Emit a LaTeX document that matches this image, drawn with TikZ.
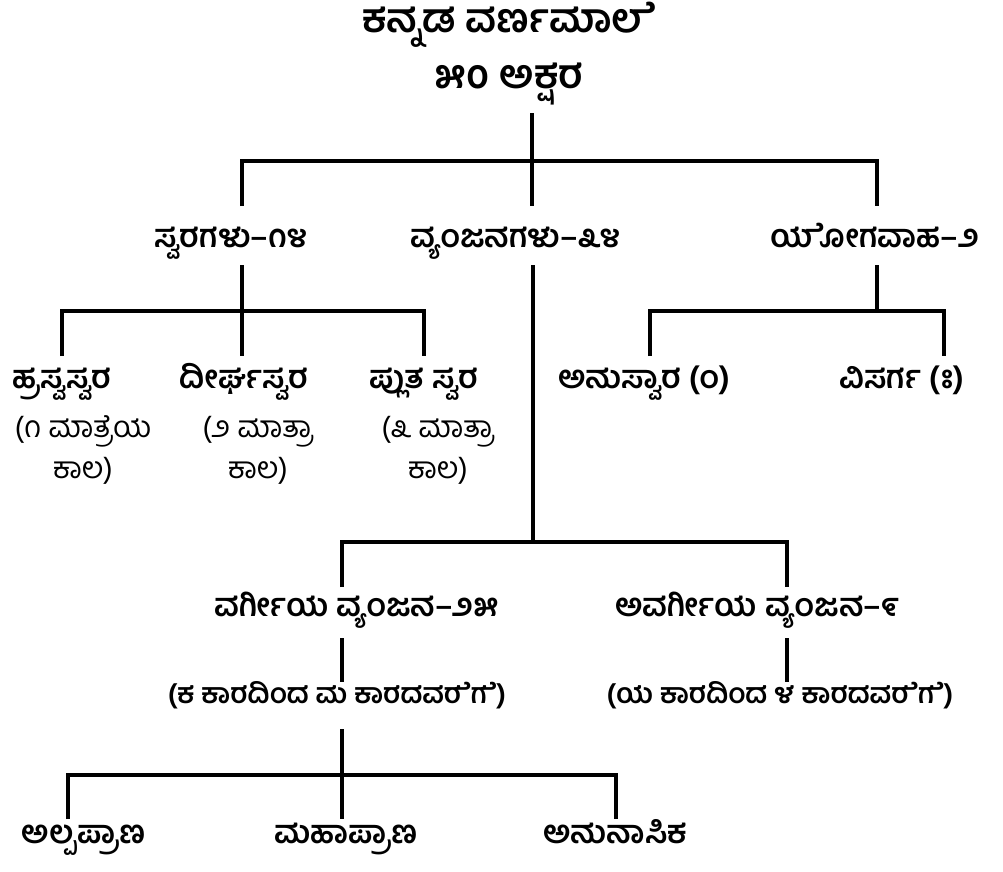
\documentclass[tikz,border=0pt]{standalone}
\usepackage{fontspec}
\newfontfamily\kn[Script=Kannada]{Hind Mysuru}
\tikzset{
  lbl/.style={font=\kn\bfseries\fontsize{24}{28}\selectfont, anchor=base, inner sep=0pt},
  paren/.style={font=\kn\bfseries\fontsize{21}{25}\selectfont, anchor=base, inner sep=0pt},
  ttl/.style={font=\kn\bfseries\fontsize{30}{35}\selectfont, anchor=base, inner sep=0pt},
  sublbl/.style={font=\kn\fontsize{22.5}{26}\selectfont, anchor=base, inner sep=0pt},
  conn/.style={line width=2.4pt, line join=miter}
}
\begin{document}
\begin{tikzpicture}[x=0.75pt,y=-0.75pt]
\useasboundingbox (0,0) rectangle (1003,871);
% title
\node[ttl] (title) at (509,32) {ಕನ್ನಡ ವರ್ಣಮಾಲ^^^^200dೆ};
\node[ttl] (total) at (509,88) {೫೦ ಅಕ್ಷರ};
% level 1
\node[lbl] (svara) at (231,247) {ಸ್ವರಗಳು–೧೪};
\node[lbl] (vyan) at (516,247) {ವ್ಯಂಜನಗಳು–೩೪};
\node[lbl] (yoga) at (875,247) {ಯ^^^^200dೋಗವಾಹ–೨};
% level 2
\node[lbl] (hrasva) at (62,388) {ಹ್ರಸ್ವಸ್ವರ};
\node[lbl] (dirgha) at (244,388) {ದೀರ್ಘಸ್ವರ};
\node[lbl] (pluta) at (424,388) {ಪ್ಲುತ ಸ್ವರ};
\node[lbl] (anus) at (644,388) {ಅನುಸ್ವಾರ (\kern-0.26em^^^^00a0ಂ)};
\node[lbl] (visa) at (902,388) {ವಿಸರ್ಗ (\kern-0.2em^^^^00a0ಃ)};
\node[sublbl] (hra1) at (83,437) {(೧ ಮಾತ್ರ^^^^200dೆಯ};
\node[sublbl] (hra2) at (83,478) {ಕಾಲ)};
\node[sublbl] (dir1) at (258,437) {(೨ ಮಾತ್ರಾ};
\node[sublbl] (dir2) at (258,478) {ಕಾಲ)};
\node[sublbl] (plu1) at (438,437) {(೩ ಮಾತ್ರಾ};
\node[sublbl] (plu2) at (438,478) {ಕಾಲ)};
% level 3
\node[lbl] (varg) at (357,616) {ವರ್ಗೀಯ ವ್ಯಂಜನ–೨೫};
\node[lbl] (avarg) at (757,616) {ಅವರ್ಗೀಯ ವ್ಯಂಜನ–೯};
\node[paren] (vargr) at (337,703) {(ಕ ಕಾರದಿಂದ ಮ ಕಾರದವರ^^^^200dೆಗ^^^^200dೆ)};
\node[paren] (avargr) at (780,703) {(ಯ ಕಾರದಿಂದ ಳ ಕಾರದವರ^^^^200dೆಗ^^^^200dೆ)};
% level 4
\node[lbl] (alpa) at (84,843) {ಅಲ್ಪಪ್ರಾಣ};
\node[lbl] (maha) at (346,843) {ಮಹಾಪ್ರಾಣ};
\node[lbl] (anun) at (615,843) {ಅನುನಾಸಿಕ};
% coordinates
\coordinate (t0) at (532,113);
\coordinate (a1) at (242,206); \coordinate (a2) at (532,206); \coordinate (a3) at (877,206);
\coordinate (aL) at (242,161); \coordinate (aR) at (877,161);
\coordinate (s0) at (242,265); \coordinate (s2) at (242,356);
\coordinate (sL) at (62,311); \coordinate (sR) at (424,311);
\coordinate (s1) at (62,356); \coordinate (s3) at (424,356);
\coordinate (y0) at (877,265); \coordinate (y1) at (877,311);
\coordinate (yL) at (650,311); \coordinate (yR) at (944,311);
\coordinate (y2) at (650,356); \coordinate (y3) at (944,356);
\coordinate (v0) at (533,265); \coordinate (v1) at (533,542);
\coordinate (vL) at (342,542); \coordinate (vR) at (787,542);
\coordinate (v2) at (342,587); \coordinate (v3) at (787,587);
\coordinate (g0) at (342,638); \coordinate (g1) at (342,682);
\coordinate (h0) at (787,638); \coordinate (h1) at (787,682);
\coordinate (k0) at (342,729); \coordinate (k1) at (342,819);
\coordinate (kL) at (68,775); \coordinate (kR) at (616,775);
\coordinate (k2) at (68,819); \coordinate (k3) at (616,819);
% connectors
\draw[conn] (t0) -- (a2);
\draw[conn] (a1) -- (aL) -- (aR) -- (a3);
\draw[conn] (s0) -- (s2);
\draw[conn] (s1) -- (sL) -- (sR) -- (s3);
\draw[conn] (y0) -- (y1);
\draw[conn] (y2) -- (yL) -- (yR) -- (y3);
\draw[conn] (v0) -- (v1);
\draw[conn] (v2) -- (vL) -- (vR) -- (v3);
\draw[conn] (g0) -- (g1);
\draw[conn] (h0) -- (h1);
\draw[conn] (k0) -- (k1);
\draw[conn] (k2) -- (kL) -- (kR) -- (k3);
\end{tikzpicture}
\end{document}
